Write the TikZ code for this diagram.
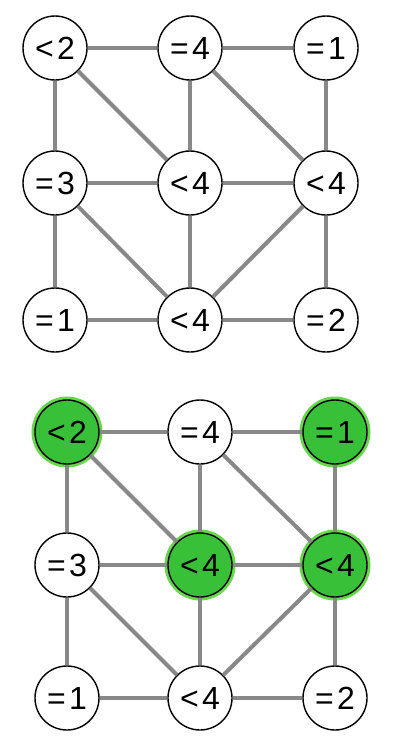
\documentclass[tikz,border=0pt]{standalone}
\usepackage{fontspec}
\setmainfont{Liberation Sans}
\definecolor{edgegray}{HTML}{888888}
\definecolor{gfill}{HTML}{38C038}
\definecolor{ghalo}{HTML}{66D94A}
\newcommand{\lab}[2]{#1\kern3.5pt#2}
\begin{document}
\begin{tikzpicture}[x=1pt,y=-1pt,
  cell/.style={circle, draw=black, line width=1.4pt, fill=white, minimum size=64pt, inner sep=0pt, font=\fontsize{32}{32}\selectfont},
  hot/.style={cell, fill=gfill, preaction={draw=ghalo, line width=7pt}},
  edge/.style={draw=edgegray, line width=4pt}]
\useasboundingbox (0,0) rectangle (400,737);
% top grid
\node[cell] (a00) at (55,48) {\lab{<}{2}};
\node[cell] (a10) at (190,48) {\lab{=}{4}};
\node[cell] (a20) at (326,48) {\lab{=}{1}};
\node[cell] (a01) at (55,183) {\lab{=}{3}};
\node[cell] (a11) at (190,183) {\lab{<}{4}};
\node[cell] (a21) at (326,183) {\lab{<}{4}};
\node[cell] (a02) at (55,320) {\lab{=}{1}};
\node[cell] (a12) at (190,320) {\lab{<}{4}};
\node[cell] (a22) at (326,320) {\lab{=}{2}};
% bottom grid
\node[hot] (b00) at (67,432) {\lab{<}{2}};
\node[cell] (b10) at (200,432) {\lab{=}{4}};
\node[hot] (b20) at (335,432) {\lab{=}{1}};
\node[cell] (b01) at (67,565) {\lab{=}{3}};
\node[hot] (b11) at (200,565) {\lab{<}{4}};
\node[hot] (b21) at (335,565) {\lab{<}{4}};
\node[cell] (b02) at (67,698) {\lab{=}{1}};
\node[cell] (b12) at (200,698) {\lab{<}{4}};
\node[cell] (b22) at (335,698) {\lab{=}{2}};
\foreach \p in {a,b}{
  \draw[edge] (\p00) -- (\p10);
  \draw[edge] (\p10) -- (\p20);
  \draw[edge] (\p00) -- (\p01);
  \draw[edge] (\p00) -- (\p11);
  \draw[edge] (\p10) -- (\p11);
  \draw[edge] (\p10) -- (\p21);
  \draw[edge] (\p20) -- (\p21);
  \draw[edge] (\p01) -- (\p11);
  \draw[edge] (\p11) -- (\p21);
  \draw[edge] (\p01) -- (\p02);
  \draw[edge] (\p01) -- (\p12);
  \draw[edge] (\p11) -- (\p12);
  \draw[edge] (\p21) -- (\p12);
  \draw[edge] (\p21) -- (\p22);
  \draw[edge] (\p02) -- (\p12);
  \draw[edge] (\p12) -- (\p22);
}
\end{tikzpicture}
\end{document}
